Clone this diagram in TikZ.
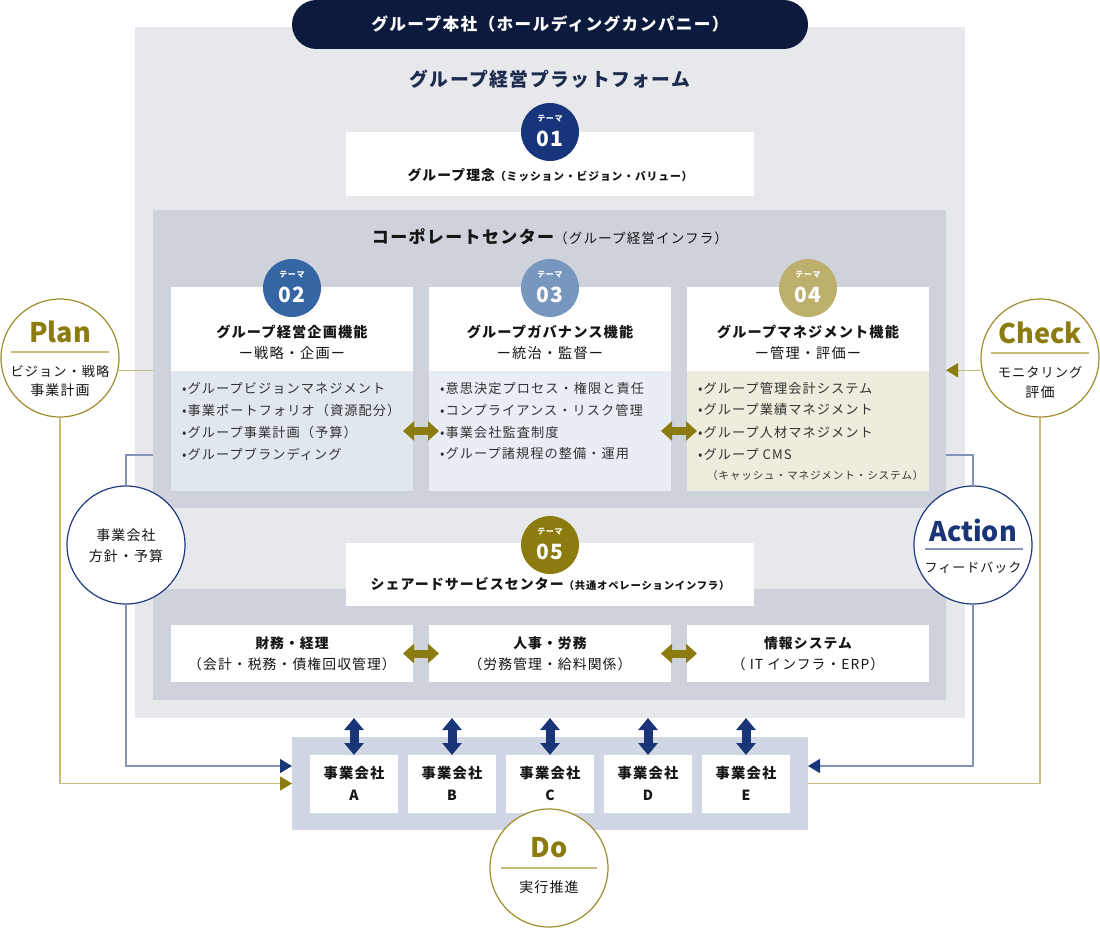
\documentclass[tikz,border=0pt]{standalone}
\usepackage{fontspec}
\setmainfont{Noto Sans CJK JP}[LetterSpace=8]
\newfontfamily\latinbold{Noto Sans CJK JP}
\usetikzlibrary{arrows.meta}

\definecolor{navydark}{HTML}{0B1A3D}
\definecolor{navytitle}{HTML}{1C2B4E}
\definecolor{theme01}{HTML}{17357A}
\definecolor{theme02}{HTML}{3566A3}
\definecolor{theme03}{HTML}{7797BF}
\definecolor{theme04}{HTML}{BDB06C}
\definecolor{olive}{HTML}{8C7B0E}
\definecolor{olivecirc}{HTML}{9D8D2D}
\definecolor{oliveline}{HTML}{C7BC7B}
\definecolor{navyline}{HTML}{8593B8}
\definecolor{navyarrow}{HTML}{1A3577}
\definecolor{navycirc}{HTML}{1F3A7E}
\definecolor{outerbg}{HTML}{E6E8EC}
\definecolor{innerbg}{HTML}{CDD2DB}
\definecolor{grpbg}{HTML}{D0D6E4}
\definecolor{tintA}{HTML}{E1E7EF}
\definecolor{tintB}{HTML}{E9EDF5}
\definecolor{tintC}{HTML}{EEEDDD}
\definecolor{textdark}{HTML}{151515}
\definecolor{textgray}{HTML}{333333}

\newcommand{\fsz}[1]{\fontsize{#1}{#1}\selectfont}

\begin{document}
\begin{tikzpicture}[x=1pt,y=-1pt,
    every node/.style={inner sep=0pt, outer sep=0pt, text=textdark},
    panel/.style={anchor=north west, inner sep=0pt},
    badge/.style={circle, minimum size=58pt},
    coltitle/.style={font=\bfseries\fsz{14.2}},
    colsub/.style={font=\fsz{14.2}},
    item/.style={anchor=west, font=\fsz{13.2}, text=textgray},
    pdca/.style={circle, minimum size=118pt, fill=white, line width=1.2pt},
    pdcaname/.style={font=\latinbold\bfseries\fsz{27}},
    pdcatext/.style={font=\fsz{14}},
    oarrow/.style={olive, line width=8pt, shorten <=-10pt, shorten >=-10pt,
      {Triangle[width=19pt,length=11pt]}-{Triangle[width=19pt,length=11pt]}},
    narrow/.style={navyarrow, line width=9pt,
      {Triangle[width=19pt,length=12pt]}-{Triangle[width=19pt,length=12pt]}},
    oline/.style={oliveline, line width=1.5pt},
    nline/.style={navyline, line width=1.5pt}]

\useasboundingbox (0,0) rectangle (1100,928);

% ==== 背景パネル ====
\node[panel, fill=outerbg, minimum width=830pt, minimum height=691pt] (platform) at (135,27) {};
\node[panel, fill=innerbg, minimum width=793pt, minimum height=298pt] (corp) at (153,210) {};
\node[panel, fill=innerbg, minimum width=793pt, minimum height=111pt] (ssc) at (153,589) {};
\node[panel, fill=grpbg, minimum width=516pt, minimum height=93pt] (grp) at (292,737) {};

% ==== 上部：グループ本社 ====
\node[fill=navydark, rounded corners=24.5pt, minimum width=516pt, minimum height=49pt,
      text=white, font=\bfseries\fsz{16.7}] (hq) at (550,24.5) {グループ本社（ホールディングカンパニー）};
\node[text=navytitle, font=\bfseries\fsz{18.8}] (pftitle) at (550,79) {グループ経営プラットフォーム};

% テーマ01：グループ理念
\node[panel, fill=white, minimum width=408pt, minimum height=64pt] (philbox) at (346,132) {};
\node (phil) at (550,175) {{\bfseries\fsz{13.8}グループ理念}{\bfseries\fsz{10.8}（ミッション・ビジョン・バリュー）}};

% ==== コーポレートセンター ====
\node (corptitle) at (550,237) {{\bfseries\fsz{17}コーポレートセンター}{\fsz{13.6}（グループ経営インフラ）}};

\node[panel, fill=white, minimum width=242pt, minimum height=84pt] (c1a) at (171,287) {};
\node[panel, fill=tintA, minimum width=242pt, minimum height=120pt] (c1b) at (171,371) {};
\node[panel, fill=white, minimum width=242pt, minimum height=84pt] (c2a) at (429,287) {};
\node[panel, fill=tintB, minimum width=242pt, minimum height=120pt] (c2b) at (429,371) {};
\node[panel, fill=white, minimum width=242pt, minimum height=84pt] (c3a) at (687,287) {};
\node[panel, fill=tintC, minimum width=242pt, minimum height=120pt] (c3b) at (687,371) {};

\node[coltitle] (c1t) at (292,332) {グループ経営企画機能};
\node[colsub]   (c1s) at (292,353) {ー戦略・企画ー};
\node[coltitle] (c2t) at (550,332) {グループガバナンス機能};
\node[colsub]   (c2s) at (550,353) {ー統治・監督ー};
\node[coltitle] (c3t) at (808,332) {グループマネジメント機能};
\node[colsub]   (c3s) at (808,353) {ー管理・評価ー};

\foreach \t [count=\i] in {グループビジョンマネジメント, 事業ポートフォリオ（資源配分）,
    グループ事業計画（予算）, グループブランディング}
  \node[item] (c1l\i) at (182,366+22*\i) {•\t};
\foreach \t [count=\i] in {意思決定プロセス・権限と責任, コンプライアンス・リスク管理,
    事業会社監査制度, グループ諸規程の整備・運用}
  \node[item] (c2l\i) at (440,366+22*\i) {•\t};
\foreach \t [count=\i] in {グループ管理会計システム, グループ業績マネジメント,
    グループ人材マネジメント, グループ CMS}
  \node[item] (c3l\i) at (698,366+22*\i) {•\t};
\node[item, font=\fsz{10.6}] (c3l5) at (707,475) {（キャッシュ・マネジメント・システム）};

\draw[oarrow] (c1b.east) -- (c2b.west);
\draw[oarrow] (c2b.east) -- (c3b.west);

% ==== シェアードサービスセンター ====
\node[panel, fill=white, minimum width=408pt, minimum height=63pt] (sscbox) at (346,543) {};
\node (ssctitle) at (550,584) {{\bfseries\fsz{13.9}シェアードサービスセンター}{\bfseries\fsz{10.3}（共通オペレーションインフラ）}};

\node[panel, fill=white, minimum width=242pt, minimum height=57pt] (s1) at (171,625) {};
\node[panel, fill=white, minimum width=242pt, minimum height=57pt] (s2) at (429,625) {};
\node[panel, fill=white, minimum width=242pt, minimum height=57pt] (s3) at (687,625) {};
\node[coltitle, font=\bfseries\fsz{13.8}] (s1t) at (292,643) {財務・経理};
\node[colsub, font=\fsz{13.8}] (s1s) at (292,664) {（会計・税務・債権回収管理）};
\node[coltitle, font=\bfseries\fsz{13.8}] (s2t) at (550,643) {人事・労務};
\node[colsub, font=\fsz{13.8}] (s2s) at (550,664) {（労務管理・給料関係）};
\node[coltitle, font=\bfseries\fsz{13.8}] (s3t) at (808,643) {情報システム};
\node[colsub, font=\fsz{13.8}] (s3s) at (808,664) {（ IT インフラ・ERP）};

\draw[oarrow] (s1.east) -- (s2.west);
\draw[oarrow] (s2.east) -- (s3.west);

% ==== テーマ番号 ====
\foreach \n/\x/\y/\c in {01/550/132/theme01, 02/292/288/theme02, 03/550/288/theme03,
    04/808/288/theme04, 05/550/545/olive} {
  \node[badge, fill=\c] (t\n) at (\x,\y) {};
  \node[text=white, font=\bfseries\fsz{8}] (t\n a) at (\x,\y-13) {テーマ};
  \node[text=white, font=\bfseries\fsz{21}] (t\n b) at (\x,\y+7) {\n};
}

% ==== 事業会社 A〜E ====
\foreach \l/\x in {A/354, B/452, C/550, D/648, E/746} {
  \node[fill=white, minimum width=88pt, minimum height=58pt] (co\l) at (\x,784) {};
  \node[font=\bfseries\fsz{14.3}] (co\l t) at (\x,773) {事業会社};
  \node[font=\bfseries\fsz{14}] (co\l l) at (\x,795) {\l};
  \draw[narrow] (co\l.north |- platform.south) -- (co\l.north);
}

% ==== PDCA サイクル ====
\node[pdca, draw=olivecirc] (plan) at (60,358) {};
\node[pdca, draw=navycirc] (bizc) at (126,545) {};
\node[pdca, draw=olivecirc] (check) at (1040,358) {};
\node[pdca, draw=navycirc] (act) at (973,545) {};
\node[pdca, draw=olivecirc] (do) at (549,868) {};

\coordinate (bizup) at (153,455);
\coordinate (actup) at (946,455);

\draw[oline] (plan.-12.7) -- (plan.-12.7 -| corp.west);
\draw[oline, -{Triangle[width=14pt,length=12pt,color=olive]}]
  (check.192.7) -- (check.192.7 -| corp.east);
\draw[oline, -{Triangle[width=14pt,length=12pt,color=olive]}] (plan.south) |- (grp.west);
\draw[oline] (check.south) |- (grp.east);
\draw[nline] (bizc.north) |- (bizup);
\draw[nline] (act.north) |- (actup);
\draw[nline, -{Triangle[width=14pt,length=12pt,color=navyarrow]}]
  (bizc.south) |- ([yshift=17.5pt]grp.west);
\draw[nline, -{Triangle[width=14pt,length=12pt,color=navyarrow]}]
  (act.south) |- ([yshift=17.5pt]grp.east);

% 円の中の文字
\node[pdcaname, text=olive] (plann) at (60,332) {Plan};
\draw[oline] (11,352) -- (109,352);
\node[pdcatext, font=\fsz{13.2}] (plant1) at (60,371) {ビジョン・戦略};
\node[pdcatext] (plant2) at (60,390) {事業計画};

\node[pdcatext] (bizct1) at (126,535) {事業会社};
\node[pdcatext] (bizct2) at (126,556) {方針・予算};

\node[pdcaname, text=olive] (checkn) at (1040,333) {Check};
\draw[oline] (991,353) -- (1089,353);
\node[pdcatext, font=\fsz{13.2}] (checkt1) at (1040,372) {モニタリング};
\node[pdcatext] (checkt2) at (1040,392) {評価};

\node[pdcaname, text=navyarrow] (actn) at (973,530) {Action};
\draw[nline] (925,549) -- (1023,549);
\node[pdcatext, font=\fsz{13}] (actt1) at (973,568) {フィードバック};

\node[pdcaname, text=olive] (don) at (549,848) {Do};
\draw[oline] (501,868) -- (597,868);
\node[pdcatext] (dot1) at (549,887) {実行推進};

\end{tikzpicture}
\end{document}
